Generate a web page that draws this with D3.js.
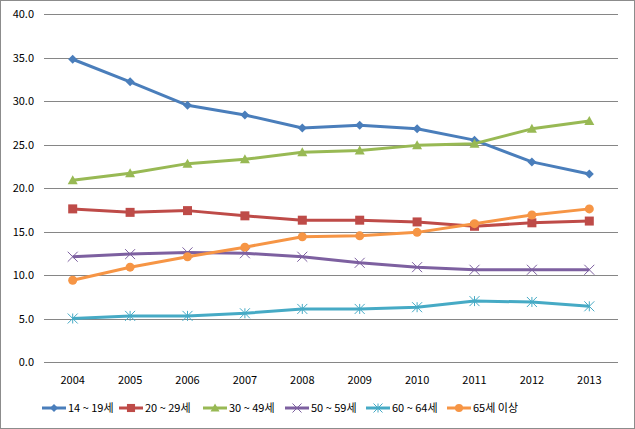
<!DOCTYPE html>
<html><head><meta charset="utf-8">
<script src="https://cdn.jsdelivr.net/npm/d3@7"></script>
<style>body{margin:0;background:#fff}svg{display:block}</style>
</head><body>
<svg id="c" width="635" height="429"></svg>
<script>
const years = ["2004","2005","2006","2007","2008","2009","2010","2011","2012","2013"];
const seriesNames = ["14 ~ 19세","20 ~ 29세","30 ~ 49세","50 ~ 59세","60 ~ 64세","65세 이상"];
const s14_19 = [34.8,32.2,29.5,28.4,26.9,27.2,26.8,25.5,23.0,21.6];
const s20_29 = [17.6,17.2,17.4,16.8,16.3,16.3,16.1,15.6,16.0,16.2];
const s30_49 = [20.9,21.7,22.8,23.3,24.1,24.3,24.9,25.1,26.8,27.7];
const s50_59 = [12.1,12.4,12.6,12.5,12.1,11.4,10.9,10.6,10.6,10.6];
const s60_64 = [5.0,5.3,5.3,5.6,6.1,6.1,6.3,7.0,6.9,6.4];
const s65 = [9.4,10.9,12.1,13.2,14.4,14.5,14.9,15.9,16.9,17.6];
const yTicks = [0,5,10,15,20,25,30,35,40];
const colors = ["#4A7EBB","#BE4B48","#98B954","#7D60A0","#46AAC5","#F69545"];
const markers = ["diamond","square","triangle","x","star","circle"];
const allSeries = [s14_19,s20_29,s30_49,s50_59,s60_64,s65];

const svg = d3.select("#c");
const font = "'Noto Sans CJK KR','Noto Sans',sans-serif";
svg.append("rect").attr("x",0.5).attr("y",0.5).attr("width",634).attr("height",428)
  .attr("fill","#fff").attr("stroke","#8c8c8c");

const L=44,R=618,T=14,B=362;
const x = d3.scaleBand().domain(years).range([L,R]);
const y = d3.scaleLinear().domain([0,40]).range([B,T]);

svg.append("g").selectAll("line").data(yTicks).join("line")
  .attr("x1",L).attr("x2",R).attr("y1",d=>Math.round(y(d))+0.5).attr("y2",d=>Math.round(y(d))+0.5)
  .attr("stroke","#868686").attr("stroke-width",1);

svg.append("g").selectAll("text").data(yTicks).join("text")
  .attr("x",34).attr("y",d=>y(d)+4).attr("text-anchor","end")
  .attr("font-family",font).attr("font-size",11).attr("fill","#000")
  .text(d=>d.toFixed(1));

svg.append("g").selectAll("text").data(years).join("text")
  .attr("x",d=>x(d)+x.bandwidth()/2).attr("y",384).attr("text-anchor","middle")
  .attr("font-family",font).attr("font-size",11).attr("fill","#000")
  .text(d=>d);

function drawMarker(g,type,cx,cy,col,scale){
  scale = scale||1;
  if(type==="diamond"){
    const s=4.5*scale;
    g.append("path").attr("d",`M${cx},${cy-s}L${cx+s},${cy}L${cx},${cy+s}L${cx-s},${cy}Z`).attr("fill",col);
  } else if(type==="square"){
    const s=4.5*scale;
    g.append("rect").attr("x",cx-s).attr("y",cy-s).attr("width",2*s).attr("height",2*s).attr("fill",col);
  } else if(type==="triangle"){
    const s=5*scale;
    g.append("path").attr("d",`M${cx},${cy-s}L${cx+s},${cy+s*0.8}L${cx-s},${cy+s*0.8}Z`).attr("fill",col);
  } else if(type==="x"){
    const s=5*scale;
    g.append("path").attr("d",`M${cx-s},${cy-s}L${cx+s},${cy+s}M${cx-s},${cy+s}L${cx+s},${cy-s}`).attr("stroke",col).attr("stroke-width",1);
  } else if(type==="star"){
    const s=5*scale;
    g.append("path").attr("d",`M${cx-s},${cy-s}L${cx+s},${cy+s}M${cx-s},${cy+s}L${cx+s},${cy-s}M${cx},${cy-s}L${cx},${cy+s}`).attr("stroke",col).attr("stroke-width",1);
  } else if(type==="circle"){
    g.append("circle").attr("cx",cx).attr("cy",cy).attr("r",4.5*scale).attr("fill",col);
  }
}

const line = d3.line().x((d,i)=>x(years[i])+x.bandwidth()/2).y(d=>y(d));
allSeries.forEach((vals,k)=>{
  const g = svg.append("g");
  g.append("path").datum(vals).attr("d",line).attr("fill","none")
    .attr("stroke",colors[k]).attr("stroke-width",3).attr("stroke-linejoin","round");
  vals.forEach((v,i)=>drawMarker(g,markers[k],x(years[i])+x.bandwidth()/2,y(v),colors[k]));
});

// legend
const legX = [42,119,203,285,366,447];
const lg = svg.append("g");
seriesNames.forEach((n,k)=>{
  const lx=legX[k], ly=408;
  lg.append("line").attr("x1",lx).attr("x2",lx+24).attr("y1",ly).attr("y2",ly)
    .attr("stroke",colors[k]).attr("stroke-width",3);
  drawMarker(lg,markers[k],lx+12,ly,colors[k],0.9);
  lg.append("text").attr("x",lx+26).attr("y",ly+4).attr("font-family",font)
    .attr("font-size",11).attr("fill","#000").text(n);
});
</script>
</body></html>
